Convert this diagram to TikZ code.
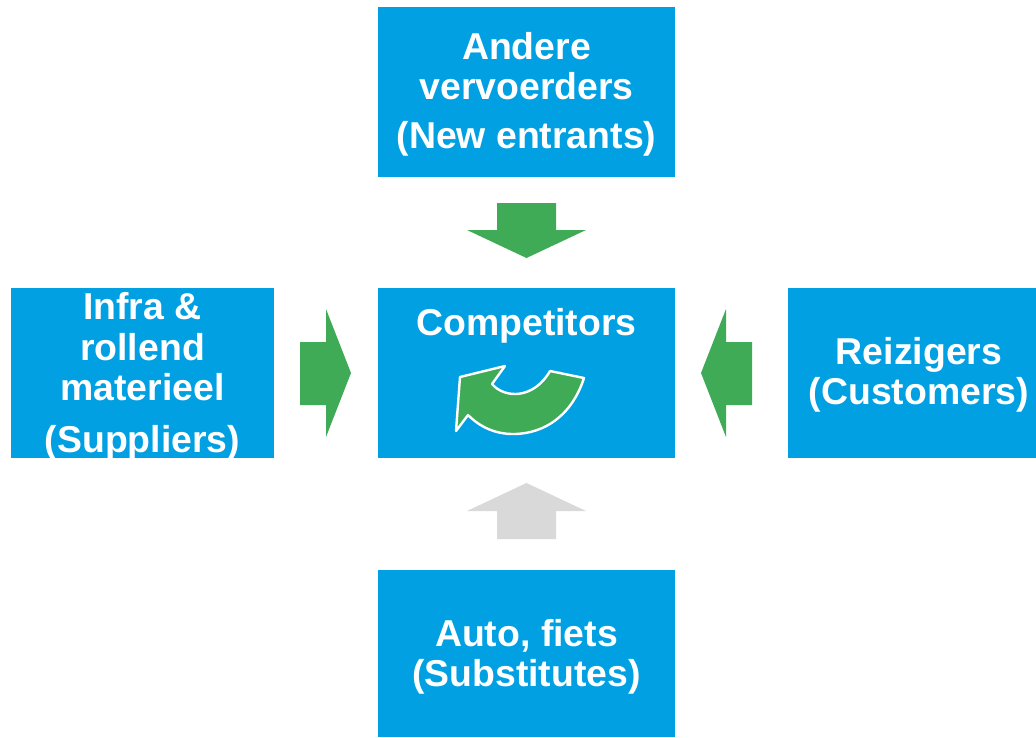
\documentclass[tikz,border=0pt]{standalone}
\usepackage{fontspec}
\setmainfont{Liberation Sans}
\definecolor{boxblue}{RGB}{0,160,226}
\definecolor{arrowgreen}{RGB}{63,171,87}
\definecolor{arrowgrey}{RGB}{217,217,217}
\tikzset{
  force/.style={fill=boxblue,inner sep=0pt,minimum height=170},
  forcetext/.style={text=white,font=\bfseries\fontsize{37.4}{40.5}\selectfont,align=center,inner sep=0pt},
}
\begin{document}
\begin{tikzpicture}[x=1pt,y=-1pt]
\useasboundingbox (0,0) rectangle (1036,737);
% Boxes
\node[force,minimum width=297] (N) at (526.5,92) {};
\node[force,minimum width=297] (C) at (526.5,373) {};
\node[force,minimum width=263] (W) at (142.5,373) {};
\node[force,minimum width=248] (E) at (912,373) {};
\node[force,minimum width=297,minimum height=167] (S) at (526.5,653.5) {};
% Labels
\node[forcetext] (Nt) at (526.5,94) {Andere\\vervoerders\\[8pt](New entrants)};
\node[forcetext] (Ct) at (526.5,325.5) {Competitors};
\node[forcetext] (Wt) at (142.5,376.5) {Infra \&\\rollend\\materieel\\[11pt](Suppliers)};
\node[forcetext] (Et) at (919,375) {Reizigers\\(Customers)};
\node[forcetext] (St) at (526.5,657) {Auto, fiets\\(Substitutes)};
% Arrows
\fill[arrowgreen] (497,203) -- (556,203) -- (556,230) -- (586,230) -- (526.5,258) -- (467,230) -- (497,230) -- cycle;
\fill[arrowgreen] (300,342) -- (326,342) -- (326,309) -- (351,373) -- (326,437) -- (326,405) -- (300,405) -- cycle;
\fill[arrowgreen] (752,342) -- (726,342) -- (726,309) -- (701,373) -- (726,437) -- (726,405) -- (752,405) -- cycle;
\fill[arrowgrey] (497,539) -- (556,539) -- (556,511) -- (586,511) -- (526.5,483) -- (467,511) -- (497,511) -- cycle;
% Curved arrow
\draw[white,fill=arrowgreen,line width=2.4,line join=round] (456,431) -- (460,377) -- (505,366) -- (492,384) .. controls (505,399) and (534,399) .. (550,371) -- (584,378) .. controls (572,415) and (545,434) .. (513,434) .. controls (495,434) and (480,427) .. (468,415) -- cycle;
\end{tikzpicture}
\end{document}
